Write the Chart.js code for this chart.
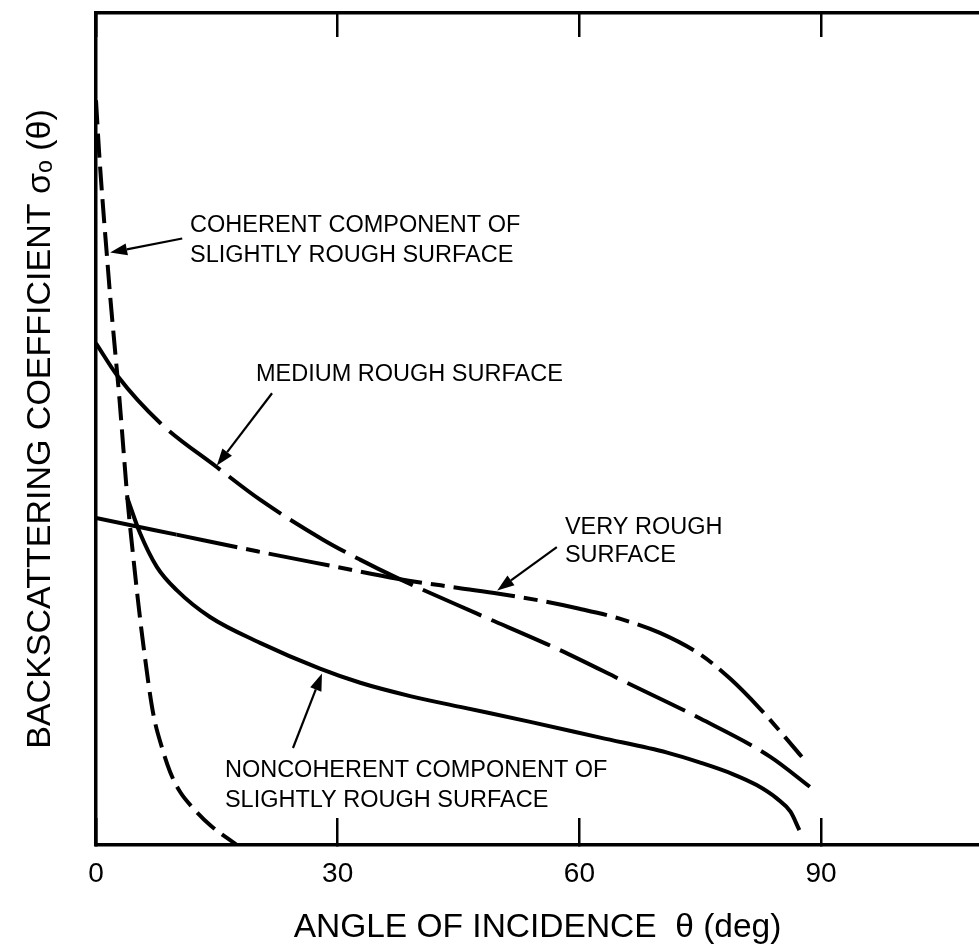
<!DOCTYPE html>
<html><head><meta charset="utf-8">
<script src="https://cdn.jsdelivr.net/npm/chart.js@4.4.1/dist/chart.umd.min.js"></script>
<style>html,body{margin:0;padding:0;background:#fff;} canvas{display:block;}</style>
</head><body>
<canvas id="c" width="979" height="950"></canvas>
<script>
// ---- data (angle θ in degrees, backscattering in arbitrary relative units) ----
const xTicks = [0, 30, 60, 90];

const coherentTheta = [0, 0.37, 0.81, 1.30, 1.80, 2.36, 2.92, 3.41, 3.91, 4.53, 5.21, 5.96, 7.08, 8.19, 9.19, 10.43, 12.04, 14.15, 17.5];
const coherentSigma = [89.5, 83.5, 77.5, 71.5, 65.5, 59.5, 53.5, 47.5, 41.5, 35.5, 29.4, 23.4, 15.9, 11.7, 8.8, 6.4, 4.45, 2.4, 0];

const mediumTheta = [0, 2.73, 7.94, 15.02, 20.36, 28.18, 32.77, 37.37, 47.3, 57.2, 65.9, 75.0, 83.7, 88.6];
const mediumSigma = [60.3, 56.3, 50.75, 45.4, 41.5, 36.7, 34.3, 32.1, 27.8, 23.6, 19.5, 15.2, 10.6, 7.0];

const veryTheta = [0, 10, 20, 30, 37.4, 45, 50, 55, 60, 65, 70, 75, 78.7, 82.4, 85.5, 87.6];
const verySigma = [39.3, 37.3, 35.3, 33.4, 32.0, 30.9, 30.2, 29.4, 28.4, 27.2, 25.5, 22.9, 20.0, 16.4, 13.0, 10.6];

const nonTheta = [3.85, 5.46, 7.57, 10.05, 14.15, 20.36, 27.8, 32.8, 39.0, 45.2, 53.9, 62.6, 70.9, 75.0, 79.1, 82.0, 84.5, 86.2, 87.3];
const nonSigma = [41.8, 37.5, 33.4, 30.6, 27.4, 24.3, 21.2, 19.5, 17.9, 16.6, 14.8, 12.9, 11.1, 9.9, 8.5, 7.2, 5.6, 4.0, 1.8];

const labels = {
  coherent: ['COHERENT COMPONENT OF', 'SLIGHTLY ROUGH SURFACE'],
  medium: ['MEDIUM ROUGH SURFACE'],
  very: ['VERY ROUGH', 'SURFACE'],
  non: ['NONCOHERENT COMPONENT OF', 'SLIGHTLY ROUGH SURFACE']
};

// ---- helpers ----
const FONT = "'Liberation Sans', Arial, Helvetica, sans-serif";
function pts(xs, ys) { return xs.map((x, i) => ({ x: x, y: ys[i] })); }
function setTicks(scale) { scale.ticks = xTicks.map(v => ({ value: v })); }

// annotation layout (in data coordinates)
const notes = [
  { lines: labels.coherent, at: [11.67, 74.5], gap: 3.6, tail: [10.7, 72.9], tip: [1.75, 71.2] },
  { lines: labels.medium, at: [19.86, 56.5], gap: 3.6, tail: [21.85, 54.3], tip: [15.0, 45.6] },
  { lines: labels.very, at: [58.2, 38.2], gap: 3.35, tail: [57.2, 35.8], tip: [49.8, 30.6] },
  { lines: labels.non, at: [16.0, 9.0], gap: 3.6, tail: [24.45, 11.66], tip: [28.05, 20.6] }
];

const annotPlugin = {
  id: 'annot',
  afterDatasetsDraw(chart) {
    const ctx = chart.ctx, xs = chart.scales.x, ys = chart.scales.y;
    ctx.save();
    ctx.fillStyle = '#000';
    ctx.strokeStyle = '#000';
    ctx.font = '23.5px ' + FONT;
    ctx.textAlign = 'left';
    ctx.textBaseline = 'middle';
    for (const n of notes) {
      n.lines.forEach((t, i) => {
        ctx.fillText(t, xs.getPixelForValue(n.at[0]), ys.getPixelForValue(n.at[1] - i * n.gap));
      });
      const x1 = xs.getPixelForValue(n.tail[0]), y1 = ys.getPixelForValue(n.tail[1]);
      const x2 = xs.getPixelForValue(n.tip[0]), y2 = ys.getPixelForValue(n.tip[1]);
      const a = Math.atan2(y2 - y1, x2 - x1);
      const L = 17, W = 6;
      const bx = x2 - L * Math.cos(a), by = y2 - L * Math.sin(a);
      ctx.lineWidth = 2.2;
      ctx.beginPath(); ctx.moveTo(x1, y1); ctx.lineTo(bx, by); ctx.stroke();
      ctx.beginPath();
      ctx.moveTo(x2, y2);
      ctx.lineTo(bx + W * Math.sin(a), by - W * Math.cos(a));
      ctx.lineTo(bx - W * Math.sin(a), by + W * Math.cos(a));
      ctx.closePath(); ctx.fill();
    }
    ctx.restore();
  }
};

const base = { borderColor: '#000', borderWidth: 4, pointRadius: 0, fill: false, cubicInterpolationMode: 'monotone', borderCapStyle: 'butt' };

new Chart(document.getElementById('c'), {
  type: 'line',
  data: {
    datasets: [
      Object.assign({}, base, { label: 'Coherent component of slightly rough surface', data: pts(coherentTheta, coherentSigma), borderDash: [24, 9] }),
      Object.assign({}, base, { label: 'Medium rough surface', data: pts(mediumTheta, mediumSigma),
        segment: { borderDash: c => c.p0.parsed.x < 2 ? [] : [64, 11] } }),
      Object.assign({}, base, { label: 'Very rough surface', data: pts(veryTheta, verySigma),
        segment: { borderDash: c => c.p0.parsed.x < 9 ? [] : [62, 9, 14, 9] } }),
      Object.assign({}, base, { label: 'Noncoherent component of slightly rough surface', data: pts(nonTheta, nonSigma) })
    ]
  },
  options: {
    responsive: false, devicePixelRatio: 1, animation: false,
    layout: { padding: 0 },
    plugins: { legend: { display: false }, tooltip: { enabled: false } },
    scales: {
      x: {
        type: 'linear', position: 'bottom', min: 0, max: 109.6,
        afterBuildTicks: setTicks,
        afterFit: s => { s.height = 105; },
        ticks: { color: '#000', font: { family: FONT, size: 28 }, padding: 39, maxRotation: 0, autoSkip: false },
        grid: { display: true, drawOnChartArea: false, drawTicks: true, tickLength: -27, color: '#000', lineWidth: 2.5 },
        border: { display: true, color: '#000', width: 3.5 },
        title: { display: true, text: 'ANGLE OF INCIDENCE  θ (deg)', color: '#000', font: { family: FONT, size: 33.5 }, padding: { top: 0, bottom: 2 } }
      },
      x2: {
        type: 'linear', position: 'top', min: 0, max: 109.6,
        afterBuildTicks: setTicks,
        afterFit: s => { s.height = 13; },
        ticks: { display: false },
        grid: { display: true, drawOnChartArea: false, drawTicks: true, tickLength: -24, color: '#000', lineWidth: 2.5 },
        border: { display: true, color: '#000', width: 3.5 }
      },
      y: {
        type: 'linear', position: 'left', min: 0, max: 100,
        afterFit: s => { s.width = 96; },
        ticks: { display: false },
        grid: { display: false },
        border: { display: true, color: '#000', width: 3.5 },
        title: { display: true, text: 'BACKSCATTERING COEFFICIENT σₒ (θ)', color: '#000', font: { family: FONT, size: 34 }, padding: { top: 20, bottom: 0 } }
      }
    }
  },
  plugins: [annotPlugin]
});
</script>
</body></html>
